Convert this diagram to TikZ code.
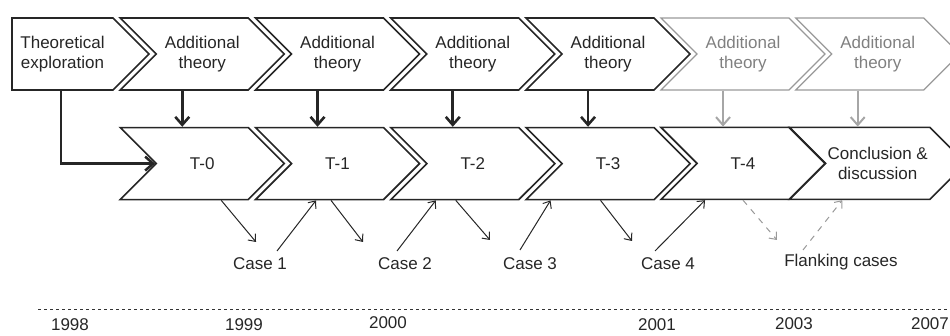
\documentclass[tikz,border=0pt]{standalone}
\usepackage{fontspec}
\setmainfont{Liberation Sans}
\usetikzlibrary{shapes.symbols, arrows.meta, positioning, calc}

\begin{document}
\begin{tikzpicture}[
    x=0.5pt, y=-0.5pt,
    font=\fontsize{8.5}{10}\selectfont,
    node distance=18pt and 2.5pt,
    firstbox/.style={signal, signal to=east, signal pointer angle=90, draw=black!85, line width=0.8pt, minimum width=68.5pt, minimum height=36pt, inner sep=1pt, align=center, text=black!85},
    stagebox/.style={firstbox, signal from=west, minimum width=82pt},
    laterbox/.style={stagebox, draw=black!40, text=black!50, line width=0.6pt},
    feed/.style={-{Straight Barb[length=4pt,width=7pt]}, line width=1.3pt, draw=black!85},
    laterfeed/.style={feed, draw=black!35, line width=1pt},
    casearrow/.style={-{Straight Barb[length=3pt,width=5pt]}, line width=0.5pt, draw=black!85},
    flankarrow/.style={casearrow, draw=black!40, dashed},
    caselabel/.style={inner sep=0pt, text=black!85},
    yearlabel/.style={inner sep=0pt, text=black!85},
    timeline/.style={line width=0.5pt, dash pattern=on 1.5pt off 1.5pt, draw=black!80}
]
\useasboundingbox (0,0) rectangle (950,336);

% Row 1: theory
\node (explore) [firstbox] at (62.5,54) {Theoretical\\exploration};
\node (theory1) [stagebox, right=of explore] {Additional\\theory};
\node (theory2) [stagebox, right=of theory1] {Additional\\theory};
\node (theory3) [stagebox, right=of theory2] {Additional\\theory};
\node (theory4) [stagebox, right=of theory3] {Additional\\theory};
\node (theory5) [laterbox, right=of theory4] {Additional\\theory};
\node (theory6) [laterbox, right=of theory5] {Additional\\theory};

% Row 2: trials
\node (t0) [stagebox, below=of theory1] {T-0};
\node (t1) [stagebox, below=of theory2] {T-1};
\node (t2) [stagebox, below=of theory3] {T-2};
\node (t3) [stagebox, below=of theory4] {T-3};
\node (t4) [stagebox, below=of theory5] {T-4};
\node (t5) [stagebox, below=of theory6] {Conclusion \&\\discussion};

% Row 3: cases
\node (case1) [caselabel] at (260,264) {Case 1};
\node (case2) [caselabel] at (405,264) {Case 2};
\node (case3) [caselabel] at (530,264) {Case 3};
\node (case4) [caselabel] at (668,264) {Case 4};
\node (flank) [caselabel] at (841,262) {Flanking cases};
\coordinate (c1in) at (256,242);
\coordinate (c1out) at (277,251);
\coordinate (c2in) at (363,242);
\coordinate (c2out) at (397,251);
\coordinate (c3in) at (490,240);
\coordinate (c3out) at (520,250);
\coordinate (c4in) at (632,241);
\coordinate (c4out) at (655,251);
\coordinate (fin) at (777,240);
\coordinate (fout) at (803,250);

% Arrows: theory to trials
\draw [feed] ($(explore.south)+(-1.5,0)$) |- (t0.west);
\draw [feed] ($(theory1.south)+(-20,0)$) -- ($(t0.north)+(-20,0)$);
\draw [feed] ($(theory2.south)+(-20,0)$) -- ($(t1.north)+(-20,0)$);
\draw [feed] ($(theory3.south)+(-20,0)$) -- ($(t2.north)+(-20,0)$);
\draw [feed] ($(theory4.south)+(-20,0)$) -- ($(t3.north)+(-20,0)$);
\draw [laterfeed] ($(theory5.south)+(-20,0)$) -- ($(t4.north)+(-20,0)$);
\draw [laterfeed] ($(theory6.south)+(-20,0)$) -- ($(t5.north)+(-20,0)$);

% Arrows: trials to cases
\draw [casearrow] ($(t0.south)+(19,0)$) -- (c1in);
\draw [casearrow] (c1out) -- ($(t1.south)+(-21.5,0)$);
\draw [casearrow] ($(t1.south)+(-6.5,0)$) -- (c2in);
\draw [casearrow] (c2out) -- ($(t2.south)+(-37,0)$);
\draw [casearrow] ($(t2.south)+(-17,0)$) -- (c3in);
\draw [casearrow] (c3out) -- ($(t3.south)+(-57.5,0)$);
\draw [casearrow] ($(t3.south)+(-7.5,0)$) -- (c4in);
\draw [casearrow] (c4out) -- ($(t4.south)+(-38,0)$);
\draw [flankarrow] (t4.south) -- (fin);
\draw [flankarrow] (fout) -- ($(t5.south)+(-35.5,0)$);

% Timeline
\draw [timeline] (38,310) -- (950,310);
\node (y1998) [yearlabel] at (70,325) {1998};
\node (y1999) [yearlabel] at (244,325) {1999};
\node (y2000) [yearlabel] at (388,323) {2000};
\node (y2001) [yearlabel] at (657,325) {2001};
\node (y2003) [yearlabel] at (794,324) {2003};
\node (y2007) [yearlabel] at (930,324) {2007};
\end{tikzpicture}
\end{document}
